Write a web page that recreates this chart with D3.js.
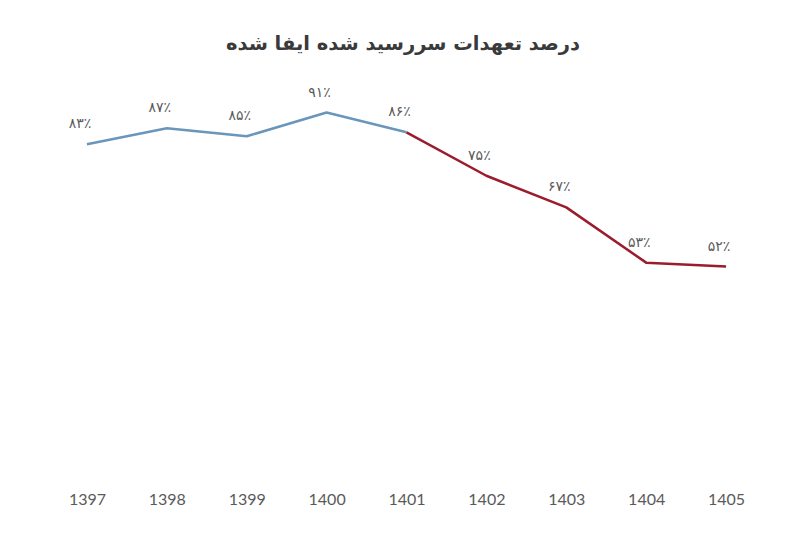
<!DOCTYPE html>
<html>
<head>
<meta charset="utf-8">
<script src="https://cdn.jsdelivr.net/npm/d3@7"></script>
<style>
  body { margin: 0; background: #fff; }
</style>
</head>
<body>
<div id="chart"></div>
<script>
const title = 'درصد تعهدات سررسید شده ایفا شده';
const years = ['1397', '1398', '1399', '1400', '1401', '1402', '1403', '1404', '1405'];
const values = [83, 87, 85, 91, 86, 75, 67, 53, 52];
const splitYear = '1401';

const width = 800;
const height = 533;
const margin = { top: 77, bottom: 61, left: 47, right: 34 };

const faDigits = s => String(s).replace(/\d/g, d => '۰۱۲۳۴۵۶۷۸۹'[d]);

const svg = d3.select('#chart')
    .append('svg')
    .attr('width', width)
    .attr('height', height);

const x = d3.scalePoint()
    .domain(years)
    .range([margin.left, width - margin.right])
    .padding(0.5);

const y = d3.scaleLinear()
    .domain([0, 100])
    .range([height - margin.bottom, margin.top]);

const data = years.map((yr, i) => ({ year: yr, value: values[i] }));
const split = years.indexOf(splitYear);

const line = d3.line()
    .x(d => x(d.year))
    .y(d => y(d.value));

svg.append('text')
    .attr('x', width / 2 + 3)
    .attr('y', 50)
    .attr('text-anchor', 'middle')
    .attr('font-family', 'DejaVu Sans')
    .attr('font-weight', 'bold')
    .attr('font-size', 19.5)
    .attr('fill', '#3a3a3a')
    .attr('direction', 'rtl')
    .text(title);

svg.append('path')
    .datum(data.slice(0, split + 1))
    .attr('fill', 'none')
    .attr('stroke', '#6a96bb')
    .attr('stroke-width', 2.5)
    .attr('stroke-linejoin', 'round')
    .attr('d', line);

svg.append('path')
    .datum(data.slice(split))
    .attr('fill', 'none')
    .attr('stroke', '#9b1c2c')
    .attr('stroke-width', 2.5)
    .attr('stroke-linejoin', 'round')
    .attr('d', line);

svg.append('g')
    .selectAll('text')
    .data(data)
    .join('text')
      .attr('x', d => x(d.year) - 7)
      .attr('y', d => y(d.value) - 16)
      .attr('text-anchor', 'middle')
      .attr('font-family', 'DejaVu Sans')
      .attr('font-size', 14)
      .attr('fill', '#5a5a5a')
      .text(d => faDigits(d.value) + '٪');

const xAxis = svg.append('g')
    .attr('transform', `translate(0, ${height - margin.bottom})`)
    .call(d3.axisBottom(x).tickSize(0).tickPadding(22));

xAxis.select('.domain').remove();
xAxis.selectAll('text')
    .attr('font-family', 'Lato')
    .attr('font-size', 16)
    .attr('fill', '#5a5a5a');
</script>
</body>
</html>
